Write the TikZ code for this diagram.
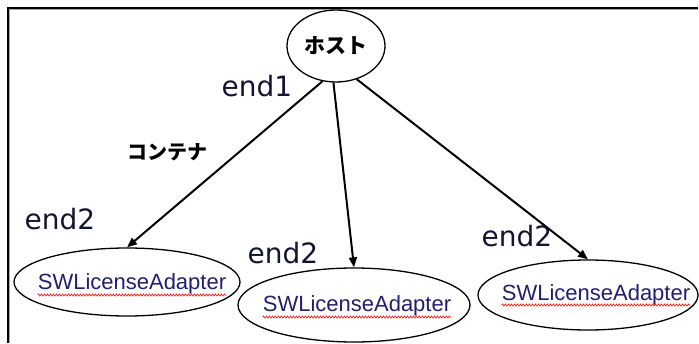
\documentclass[tikz,border=0pt]{standalone}
\usepackage{fontspec}
\setmainfont{Liberation Sans}
\newfontfamily\dejafont{DejaVu Sans}
\newfontfamily\jpfont{Noto Sans CJK JP}
\usetikzlibrary{shapes.geometric,arrows.meta,decorations.pathmorphing,calc}
\definecolor{endcol}{RGB}{20,20,50}
\definecolor{swcol}{RGB}{35,30,110}
\definecolor{shadowgray}{RGB}{170,170,170}
\begin{document}
\begin{tikzpicture}[x=1pt,y=1pt,
  oval/.style={draw, ellipse, line width=1.3pt, inner sep=0pt},
  swtext/.style={font=\fontsize{22}{24}\selectfont, text=swcol, inner sep=0pt, anchor=base},
  endlabel/.style={font=\dejafont\fontsize{28}{30}\selectfont, text=endcol, anchor=base, inner sep=0pt},
  link/.style={line width=2pt, -{Triangle[length=10pt,width=8pt]}},
  squiggle/.style={red, line width=0.6pt, decorate, decoration={zigzag, amplitude=1.1pt, segment length=3pt}}
]
\useasboundingbox (0,0) rectangle (699,343);
% frame
\draw[shadowgray, line width=1pt] (9.7,0) -- (9.7,333.3) -- (698,333.3);
\draw[line width=2pt] (7.7,0) -- (7.7,335.3) -- (698,335.3);

% nodes
\node[oval, minimum width=98, minimum height=72, font=\jpfont\bfseries\fontsize{21}{23}\selectfont] (host) at (336,297) {ホスト};
\node[oval, minimum width=226, minimum height=68] (a) at (127,61) {};
\node[oval, minimum width=232, minimum height=74] (b) at (354,38) {};
\node[oval, minimum width=220, minimum height=70] (c) at (588,48) {};
\node[swtext] (ta) at (132,53) {SWLicenseAdapter};
\node[swtext] (tb) at (357,31) {SWLicenseAdapter};
\node[swtext] (tc) at (596,43) {SWLicenseAdapter};

% labels
\node[endlabel] (end1) at (257,246) {end1};
\node[font=\jpfont\bfseries\fontsize{20}{22}\selectfont, inner sep=0pt] (cont) at (167,191) {コンテナ};
\node[endlabel] (e2a) at (60,113) {end2};
\node[endlabel] (e2b) at (283,80) {end2};
\node[endlabel] (e2c) at (517,96) {end2};

% spell-check squiggles
\draw[squiggle] ([yshift=-5pt]ta.base west) -- ([yshift=-5pt]ta.base east);
\draw[squiggle] ([yshift=-5pt]tb.base west) -- ([yshift=-5pt]tb.base east);
\draw[squiggle] ([yshift=-5pt]tc.base west) -- ([yshift=-5pt]tc.base east);

% connectors
\draw[link] (host.249) -- (a.north);
\draw[link] (host.266) -- (b.north);
\draw[link] (host.302) -- (c.north);
\end{tikzpicture}
\end{document}
